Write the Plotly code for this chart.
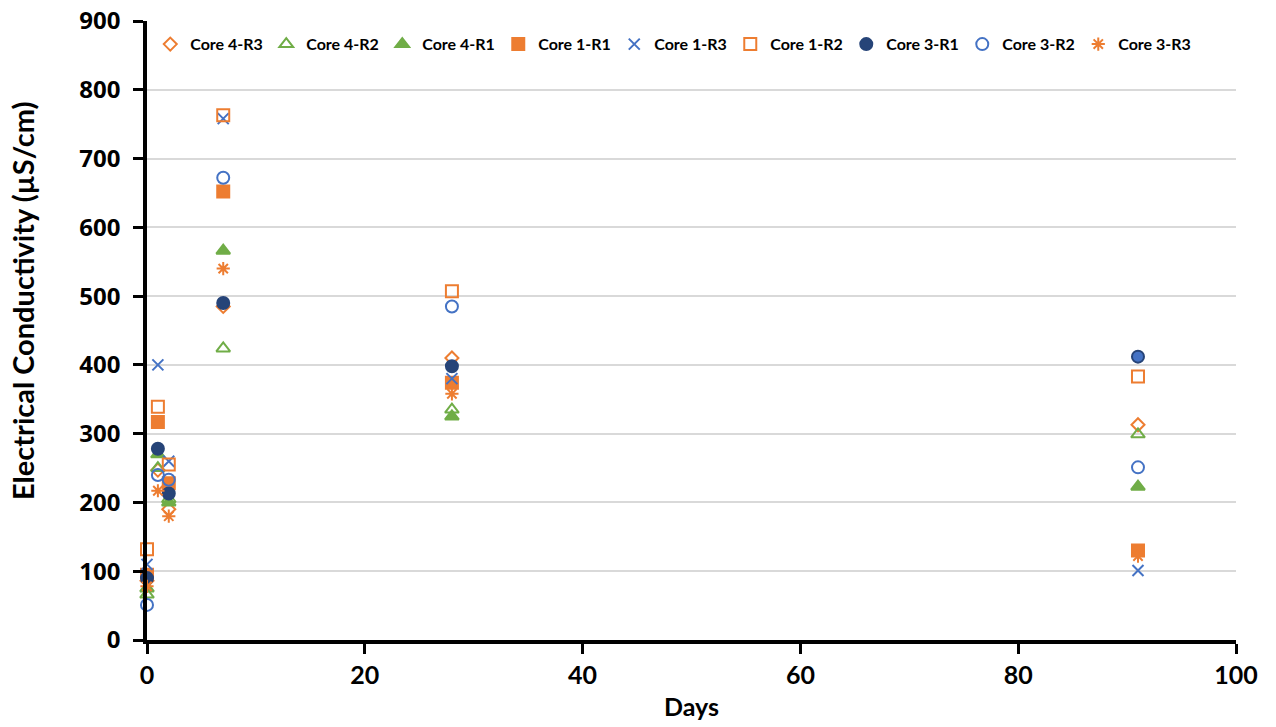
import plotly.graph_objects as go

days = [0, 1, 2, 7, 28, 91]

core4_r3 = [86, 247, 190, 485, 410, 313]
core4_r2 = [66, 250, 205, 424, 335, 299]
core4_r1 = [75, 270, 200, 566, 325, 223]
core1_r1 = [95, 317, 228, 652, 374, 130]
core1_r3 = [110, 400, 260, 758, 380, 101]
core1_r2 = [132, 339, 255, 763, 507, 383]
core3_r1 = [90, 278, 213, 490, 398, 412]
core3_r2 = [51, 240, 233, 672, 485, 251]
core3_r3 = [78, 217, 180, 540, 358, 122]

ORANGE = "#ED7D31"
GREEN = "#70AD47"
BLUE = "#4472C4"
NAVY = "#264478"

series = [
    ("Core 4-R3", core4_r3, "diamond-open", ORANGE, 10),
    ("Core 4-R2", core4_r2, "triangle-up-open", GREEN, 12),
    ("Core 4-R1", core4_r1, "triangle-up", GREEN, 12),
    ("Core 1-R1", core1_r1, "square", ORANGE, 12),
    ("Core 1-R3", core1_r3, "x-thin-open", BLUE, 11),
    ("Core 1-R2", core1_r2, "square-open", ORANGE, 12),
    ("Core 3-R1", core3_r1, "circle", NAVY, 12),
    ("Core 3-R2", core3_r2, "circle-open", BLUE, 12),
    ("Core 3-R3", core3_r3, "asterisk-open", ORANGE, 11),
]

fig = go.Figure()
for name, vals, sym, col, size in series:
    color = col
    if name == "Core 3-R1":
        color = [NAVY] * (len(vals) - 1) + [BLUE]
    fig.add_trace(go.Scatter(
        x=days, y=vals, mode="markers", name=name, cliponaxis=False,
        marker=dict(symbol=sym, color=color, size=size,
                    line=dict(color=col, width=2)),
    ))

fig.update_layout(
    width=1276, height=727,
    margin=dict(l=147, r=40, t=21, b=87),
    paper_bgcolor="white", plot_bgcolor="white",
    font=dict(family="Lato", color="black"),
    showlegend=True,
    legend=dict(
        orientation="h", x=0.003, y=0.99, xanchor="left", yanchor="top",
        bgcolor="rgba(0,0,0,0)",
        font=dict(family="Lato", size=16, color="black", weight="bold"),
        entrywidth=71, entrywidthmode="pixels",
        itemwidth=30,
    ),
    xaxis=dict(
        range=[0, 100], dtick=20, tick0=0, automargin=False,
        showgrid=False, zeroline=False,
        showline=True, linecolor="black", linewidth=3.5,
        ticks="outside", ticklen=10, tickwidth=3, tickcolor="black",
        tickfont=dict(family="Lato", size=25, weight="bold"),
        title=dict(text="Days", font=dict(family="Lato", size=25, weight="bold"), standoff=12),
    ),
    yaxis=dict(
        range=[0, 900], dtick=100, tick0=0, automargin=False,
        showgrid=True, gridcolor="#D9D9D9", gridwidth=1.5,
        zeroline=False,
        showline=True, linecolor="black", linewidth=3.5,
        ticks="outside", ticklen=10, tickwidth=3, tickcolor="black",
        ticklabelstandoff=8,
        tickfont=dict(family="Open Sans", size=24, weight="bold"),
    ),
    annotations=[dict(
        text="Electrical Conductivity (µS/cm)", textangle=-90,
        xref="paper", yref="paper",
        x=(22 - 147) / 1089, y=(640 - 301) / 619,
        xanchor="center", yanchor="middle", showarrow=False,
        font=dict(family="Lato", size=29, weight="bold", color="black"),
    )],
)

fig.write_html("out.html")
